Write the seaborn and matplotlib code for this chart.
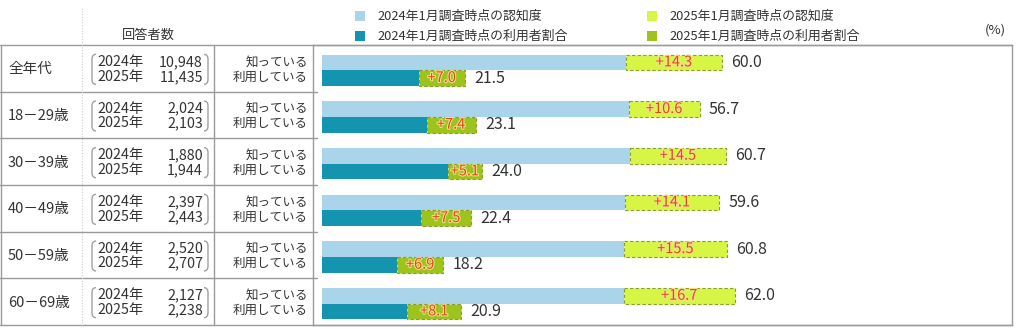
import numpy as np
import pandas as pd
import matplotlib
matplotlib.use("Agg")
import matplotlib.pyplot as plt
import seaborn as sns
from matplotlib.path import Path
from matplotlib.patches import PathPatch
import matplotlib.patheffects as pe

# ---------------- data ----------------
ages = ["全年代", "18－29歳", "30－39歳", "40－49歳", "50－59歳", "60－69歳"]
n2024 = ["10,948", "2,024", "1,880", "2,397", "2,520", "2,127"]
n2025 = ["11,435", "2,103", "1,944", "2,443", "2,707", "2,238"]
aware2025 = [60.0, 56.7, 60.7, 59.6, 60.8, 62.0]
aware_inc = [14.3, 10.6, 14.5, 14.1, 15.5, 16.7]
use2025 = [21.5, 23.1, 24.0, 22.4, 18.2, 20.9]
use_inc = [7.0, 7.4, 5.1, 7.5, 6.9, 8.1]
metrics = ["認知度", "利用者割合"]
row_kinds = ["知っている", "利用している"]
legend_labels = ["2024年1月調査時点の認知度", "2024年1月調査時点の利用者割合",
                 "2025年1月調査時点の認知度", "2025年1月調査時点の利用者割合"]
header = "回答者数"
unit = "(%)"

C_LIGHT = "#a9d4ea"
C_DARK = "#1594b0"
C_LIME = "#d6f545"
C_OLIVE = "#9cc41c"
C_EDGE = "#8a9c2a"
C_INC_TXT = "#e0481e"
C_TXT = "#333333"
C_LINE = "#9a9a9a"

sns.set_style("white")
plt.rcParams["font.family"] = ["Noto Sans CJK JP", "DejaVu Sans"]

W, H = 1019, 329
fig = plt.figure(figsize=(W / 100, H / 100), dpi=100)

# background / table axes in pixel coordinates
bg = fig.add_axes([0, 0, 1, 1])
bg.set_xlim(0, W)
bg.set_ylim(H, 0)
bg.axis("off")

TOP, BOT = 45, 325
X_SPLIT1, X_SPLIT2, X_CHART, X_RIGHT = 82, 214, 313, 1012
rh = (BOT - TOP) / len(ages)

# table lines
bg.plot([0, X_RIGHT], [TOP, TOP], color=C_LINE, lw=1)
bg.plot([0, X_RIGHT], [BOT, BOT], color=C_LINE, lw=1)
bg.plot([1, 1], [TOP, BOT], color=C_LINE, lw=1)
for i in range(1, len(ages)):
    y = TOP + i * rh
    bg.plot([0, X_CHART + 4], [y, y], color=C_LINE, lw=1)
bg.plot([X_SPLIT1, X_SPLIT1], [8, BOT], color="#cccccc", lw=0.8, ls=(0, (1, 1.5)))
bg.plot([X_SPLIT2, X_SPLIT2], [TOP, BOT], color=C_LINE, lw=1)

bg.text((X_SPLIT1 + X_SPLIT2) / 2, 35, header, ha="center", va="center",
        fontsize=9.5, color=C_TXT)
bg.text(995, 30, unit, ha="center", va="center", fontsize=9.5, color=C_TXT)

def bracket(x, yc, side):
    d = 4 if side == "l" else -4
    verts = [(x + d, yc - 15), (x, yc - 15), (x, yc - 10),
             (x, yc + 10), (x, yc + 15), (x + d, yc + 15)]
    codes = [Path.MOVETO, Path.CURVE3, Path.CURVE3, Path.LINETO, Path.CURVE3, Path.CURVE3]
    bg.add_patch(PathPatch(Path(verts, codes), fill=False, edgecolor="#a0a0a0", lw=1))

for i, age in enumerate(ages):
    yc = TOP + (i + 0.5) * rh + 1
    bg.text(8, yc, age, ha="left", va="center", fontsize=10.5, color=C_TXT)
    bg.text(97, yc - 7.5, "2024年", ha="left", va="center", fontsize=10.3, color=C_TXT)
    bg.text(97, yc + 7.5, "2025年", ha="left", va="center", fontsize=10.3, color=C_TXT)
    bg.text(203, yc - 7.5, n2024[i], ha="right", va="center", fontsize=10.3, color=C_TXT)
    bg.text(203, yc + 7.5, n2025[i], ha="right", va="center", fontsize=10.3, color=C_TXT)
    bracket(92, yc, "l")
    bracket(208, yc, "r")
    bg.text(308, yc - 7.5, row_kinds[0], ha="right", va="center", fontsize=9, color=C_TXT)
    bg.text(308, yc + 7.5, row_kinds[1], ha="right", va="center", fontsize=9, color=C_TXT)

# legend
leg_colors = [C_LIGHT, C_DARK, C_LIME, C_OLIVE]
leg_pos = [(360, 16), (360, 36), (652, 16), (652, 36)]
for (lx, ly), col, lab in zip(leg_pos, leg_colors, legend_labels):
    bg.scatter([lx], [ly], marker="s", s=42, color=col, linewidths=0)
    bg.text(lx + 17, ly, lab, ha="left", va="center", fontsize=9.3, color=C_TXT)

# ---------------- bar chart ----------------
ax = fig.add_axes([X_CHART / W, (H - BOT) / H, (X_RIGHT - X_CHART) / W, (BOT - TOP) / H])
aware2024 = [round(a - b, 1) for a, b in zip(aware2025, aware_inc)]
use2024 = [round(a - b, 1) for a, b in zip(use2025, use_inc)]
df = pd.DataFrame({
    "age": ages * 2,
    "metric": [metrics[0]] * len(ages) + [metrics[1]] * len(ages),
    "v2024": aware2024 + use2024,
})
sns.barplot(data=df, x="v2024", y="age", hue="metric", order=ages, hue_order=metrics,
            palette={metrics[0]: C_LIGHT, metrics[1]: C_DARK}, orient="h",
            width=0.67, dodge=True, saturation=1, legend=False, ax=ax, linewidth=0)

incs = [aware_inc, use_inc]
totals = [aware2025, use2025]
inc_cols = [C_LIME, C_OLIVE]
base_containers = list(ax.containers)
for k, cont in enumerate(base_containers):
    for i, bar in enumerate(cont):
        y = bar.get_y() + bar.get_height() / 2
        h = bar.get_height()
        base = bar.get_width()
        ax.barh(y, incs[k][i], left=base, height=h, color=inc_cols[k],
                edgecolor=C_EDGE, linestyle=(0, (3, 2)), linewidth=0.8)
        t = ax.text(base + incs[k][i] / 2, y, f"+{incs[k][i]:.1f}", ha="center",
                    va="center", fontsize=10.5, color=C_INC_TXT)
        t.set_path_effects([pe.withStroke(linewidth=1.5, foreground="#f3e08a")])
        ax.text(base + incs[k][i] + 1.4, y, f"{totals[k][i]:.1f}", ha="left",
                va="center", fontsize=11.5, color=C_TXT)

ax.set_xlim(-1.35, 103.6)
ax.set_ylim(5.46, -0.54)
ax.set_xticks([])
ax.set_yticks([])
ax.set_xlabel("")
ax.set_ylabel("")
ax.set_facecolor("none")
for s in ax.spines.values():
    s.set_visible(True)
    s.set_color(C_LINE)
    s.set_linewidth(1)

fig.savefig("out.png", dpi=100)
